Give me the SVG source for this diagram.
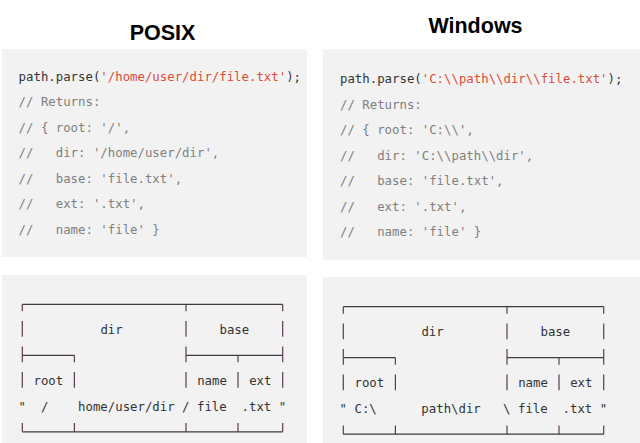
<svg xmlns="http://www.w3.org/2000/svg" xmlns:xlink="http://www.w3.org/1999/xlink" width="640" height="443" viewBox="0 0 640 443">
<style>
.title{font-family:"Liberation Sans",Arial,sans-serif;font-weight:bold;font-size:21.5px;fill:#000;text-anchor:middle}
.panel{fill:#f2f2f2}
.code{font-family:"DejaVu Sans Mono","Liberation Mono",monospace;font-size:12.35px;fill:#333;white-space:pre}
.cm{fill:#7f7f7f}
.str{fill:#dd4b39}
.hl{stroke:#3c3c3c;stroke-width:1.2;fill:none}
.vl{stroke:#5a3a55;stroke-width:1.2;fill:none}
</style>
<defs>
<g id="frame">
<path class="hl" d="M22.3 304.3H282.7M22.3 355.3H74.4M186 355.3H282.7M22.3 431.8H282.7"/>
<path class="vl" d="M22.3 304.3V311.3M186 304.3V311.3M282.7 304.3V311.3
M22.3 321V336.8M186 321V336.8M282.7 321V336.8
M22.3 346.5V362.3M74.4 355.3V362.3M186 346.5V362.3M238 355.3V362.3M282.7 346.5V362.3
M22.3 372V387.8M74.4 372V387.8M186 372V387.8M238 372V387.8M282.7 372V387.8
M22.3 423V431.8M74.4 423V431.8M186 423V431.8M238 423V431.8M282.7 423V431.8"/>
<text class="code" x="100.4" y="334">dir</text>
<text class="code" x="219.5" y="334">base</text>
<text class="code" x="33.5" y="385">root</text>
<text class="code" x="197.2" y="385">name</text>
<text class="code" x="249.2" y="385">ext</text>
</g>
</defs>

<g id="posix-title"><text class="title" x="162.5" y="40">POSIX</text></g>
<g id="windows-title"><text class="title" x="475.5" y="32.5">Windows</text></g>

<g id="posix-code">
<rect class="panel" x="2" y="49" width="305" height="208"/>
<text class="code" xml:space="preserve" x="18.6" y="80.5">path.parse(<tspan class="str">'/home/user/dir/file.txt'</tspan>);</text>
<text class="code cm" xml:space="preserve" x="18.6" y="106">// Returns:</text>
<text class="code cm" xml:space="preserve" x="18.6" y="131.5">// { root: '/',</text>
<text class="code cm" xml:space="preserve" x="18.6" y="157">//   dir: '/home/user/dir',</text>
<text class="code cm" xml:space="preserve" x="18.6" y="182.5">//   base: 'file.txt',</text>
<text class="code cm" xml:space="preserve" x="18.6" y="208">//   ext: '.txt',</text>
<text class="code cm" xml:space="preserve" x="18.6" y="233.5">//   name: 'file' }</text>
</g>

<g id="windows-code">
<rect class="panel" x="323" y="49" width="317" height="211"/>
<text class="code" xml:space="preserve" x="340" y="83">path.parse(<tspan class="str">'C:\\path\\dir\\file.txt'</tspan>);</text>
<text class="code cm" xml:space="preserve" x="340" y="108.5">// Returns:</text>
<text class="code cm" xml:space="preserve" x="340" y="134">// { root: 'C:\\',</text>
<text class="code cm" xml:space="preserve" x="340" y="159.5">//   dir: 'C:\\path\\dir',</text>
<text class="code cm" xml:space="preserve" x="340" y="185">//   base: 'file.txt',</text>
<text class="code cm" xml:space="preserve" x="340" y="210.5">//   ext: '.txt',</text>
<text class="code cm" xml:space="preserve" x="340" y="236">//   name: 'file' }</text>
</g>

<g id="posix-layout">
<rect class="panel" x="2" y="275" width="305" height="168"/>
<use xlink:href="#frame"/>
<text class="code" xml:space="preserve" x="18.6" y="410.5">"  /    home/user/dir / file  .txt "</text>
</g>

<g id="windows-layout">
<rect class="panel" x="323" y="277" width="317" height="166"/>
<use xlink:href="#frame" transform="translate(321 2.4)"/>
<text class="code" xml:space="preserve" x="339.6" y="412.9">" C:\      path\dir   \ file  .txt "</text>
</g>
</svg>
